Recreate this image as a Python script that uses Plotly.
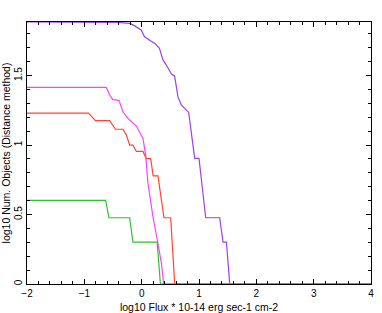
import plotly.graph_objects as go

# Data (log10 flux, log10 cumulative number)
purple_x = [-2.0, -0.42, -0.21, -0.12, -0.005, 0.05, 0.14, 0.23, 0.31, 0.37, 0.43, 0.46, 0.52, 0.575,
            0.633, 0.693, 0.75, 0.82, 0.925, 1.0, 1.117, 1.361, 1.419, 1.478, 1.536, 4.0]
purple_y = [1.886, 1.883, 1.876, 1.858, 1.827, 1.779, 1.755, 1.732, 1.696, 1.615, 1.576, 1.552, 1.511, 1.496,
            1.347, 1.288, 1.264, 1.235, 0.904, 0.904, 0.477, 0.477, 0.301, 0.301, 0.0, 0.0]

red_x = [-2.0, -0.928, -0.806, -0.558, -0.457, -0.326, -0.267, -0.209, -0.152, -0.093, 0.023,
         0.079, 0.157, 0.201, 0.284, 0.389, 0.506, 0.576, 4.0]
red_y = [1.23, 1.23, 1.176, 1.176, 1.114, 1.114, 1.072, 1.0, 1.0, 0.954, 0.954,
         0.903, 0.903, 0.778, 0.778, 0.477, 0.477, 0.0, 0.0]

magenta_x = [-2.0, -0.616, -0.558, -0.501, -0.396, -0.326, -0.239, -0.093, 0.023, 0.07, 0.11,
             0.197, 0.284, 0.344, 0.384, 4.0]
magenta_y = [1.415, 1.415, 1.36, 1.327, 1.322, 1.24, 1.192, 1.137, 1.048, 0.928, 0.724,
             0.484, 0.293, 0.149, 0.0, 0.0]

green_x = [-2.0, -0.628, -0.571, -0.209, -0.152, 0.27, 0.327, 4.0]
green_y = [0.602, 0.602, 0.477, 0.477, 0.301, 0.301, 0.0, 0.0]

series = [
    (purple_x, purple_y, "#a040e8"),
    (red_x, red_y, "#ff4530"),
    (magenta_x, magenta_y, "#ff40ff"),
    (green_x, green_y, "#30c030"),
]

x_ticks = [-2, -1, 0, 1, 2, 3, 4]
y_ticks = [0, 0.5, 1, 1.5]
y_tick_text = ["0", "0.5", "1", "1.5"]

fig = go.Figure()
for xs, ys, col in series:
    fig.add_trace(go.Scatter(x=xs, y=ys, mode="lines",
                             line=dict(color=col, width=1.2), showlegend=False,
                             hoverinfo="skip"))

font = dict(family="Liberation Sans, Arial, sans-serif", size=10, color="black")

fig.update_layout(
    width=382, height=313,
    margin=dict(l=27, r=11, t=22, b=29, autoexpand=False),
    paper_bgcolor="white", plot_bgcolor="white",
    font=font,
)
fig.update_xaxes(
    range=[-2, 4], tickvals=x_ticks, ticks="inside", ticklen=5, tickwidth=1,
    tickcolor="black", showline=True, linecolor="black", linewidth=1, mirror="ticks",
    showgrid=False, zeroline=False, automargin=False,
    minor=dict(dtick=0.2, ticks="inside", ticklen=3, tickcolor="black", showgrid=False),
    title=dict(text="log10 Flux * 10-14 erg sec-1 cm-2", font=dict(size=10.5), standoff=5),
    tickfont=dict(size=10),
)
fig.update_yaxes(
    range=[0, 1.886], tickvals=y_ticks, ticktext=y_tick_text, tickangle=-90,
    ticks="inside", ticklen=5, tickwidth=1,
    tickcolor="black", showline=True, linecolor="black", linewidth=1, mirror="ticks",
    showgrid=False, zeroline=False, automargin=False,
    minor=dict(dtick=0.1, ticks="inside", ticklen=3, tickcolor="black", showgrid=False),
    title=dict(text="log10 Num. Objects (Distance method)", font=dict(size=10.5), standoff=1),
    tickfont=dict(size=10),
)

fig.write_html("out.html", config={"displayModeBar": False},
               post_script="document.body.style.margin='0';document.body.style.overflow='hidden';")
